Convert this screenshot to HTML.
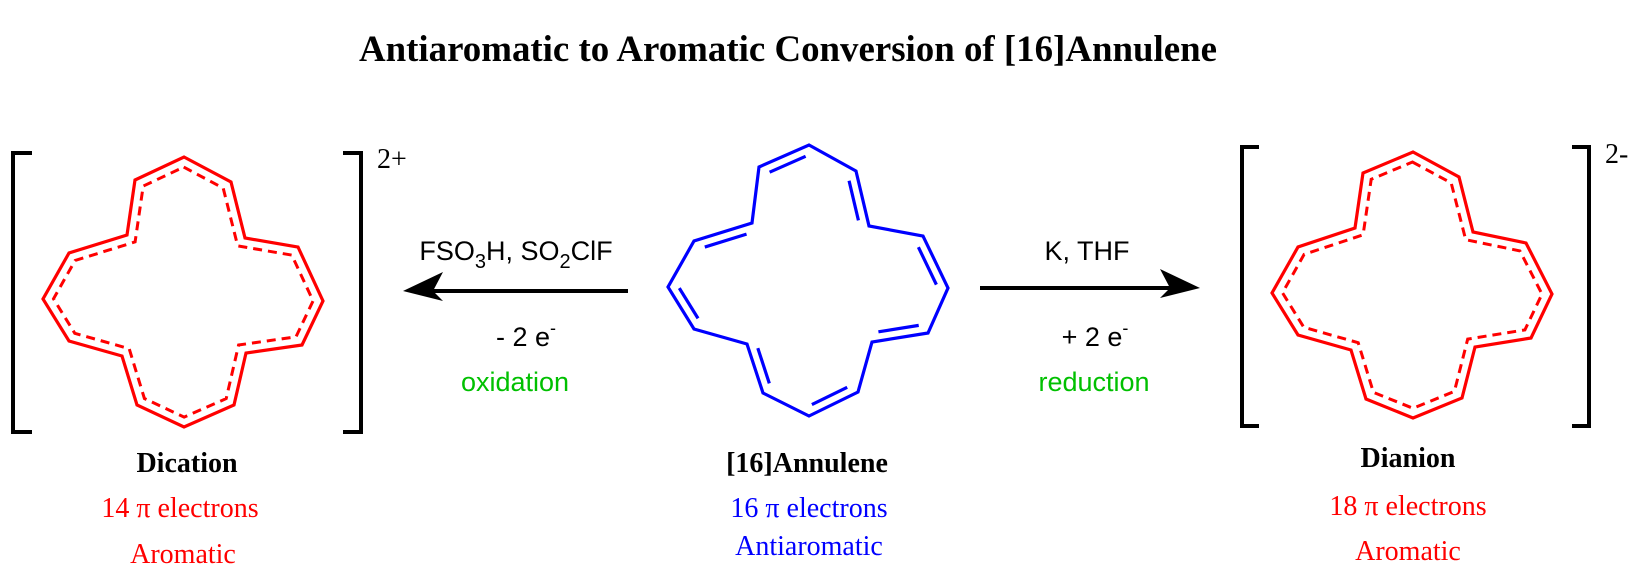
<!DOCTYPE html>
<html><head><meta charset="utf-8"><style>
html,body{margin:0;padding:0;background:#fff;width:1641px;height:580px;overflow:hidden}
svg{display:block}
.serif{font-family:"Liberation Serif",serif}
.sans{font-family:"Liberation Sans",sans-serif}
</style></head><body>
<svg id="s" width="1641" height="580" viewBox="0 0 1641 580" xmlns="http://www.w3.org/2000/svg">
<text x="788" y="61" text-anchor="middle" class="serif" font-weight="bold" font-size="37" textLength="858" lengthAdjust="spacingAndGlyphs">Antiaromatic to Aromatic Conversion of [16]Annulene</text>

<!-- brackets -->
<g fill="none" stroke="#000" stroke-width="4">
<polyline points="32,153 13,153 13,432 32,432"/>
<polyline points="343,153 361,153 361,432 343,432"/>
<polyline points="1259,147 1242,147 1242,426 1259,426"/>
<polyline points="1572,147 1589,147 1589,426 1572,426"/>
</g>
<text x="377" y="168" class="serif" font-size="28">2+</text>
<text x="1605" y="163" class="serif" font-size="28">2-</text>

<!-- arrows -->
<line x1="430" y1="291" x2="628" y2="291" stroke="#000" stroke-width="4"/>
<polygon points="403,291 443,272 433,291 443,301" fill="#000"/>
<line x1="980" y1="288" x2="1170" y2="288" stroke="#000" stroke-width="4"/>
<polygon points="1200,288 1160,269 1170,288 1160,298" fill="#000"/>

<text x="516" y="260" text-anchor="middle" class="sans" font-size="27">FSO<tspan font-size="20" dy="8">3</tspan><tspan dy="-8">H, SO</tspan><tspan font-size="20" dy="8">2</tspan><tspan dy="-8">ClF</tspan></text>
<text x="526" y="346" text-anchor="middle" class="sans" font-size="27">- 2 e<tspan font-size="18" dy="-12">-</tspan></text>
<text x="515" y="391" text-anchor="middle" class="sans" font-size="27" fill="#00c000">oxidation</text>
<text x="1087" y="260" text-anchor="middle" class="sans" font-size="27">K, THF</text>
<text x="1095" y="346" text-anchor="middle" class="sans" font-size="27">+ 2 e<tspan font-size="18" dy="-12">-</tspan></text>
<text x="1094" y="391" text-anchor="middle" class="sans" font-size="27" fill="#00c000">reduction</text>

<!-- labels -->
<text x="187" y="472" text-anchor="middle" class="serif" font-weight="bold" font-size="28">Dication</text>
<text x="180" y="517" text-anchor="middle" class="serif" font-size="28" fill="#f00">14 π electrons</text>
<text x="183" y="563" text-anchor="middle" class="serif" font-size="28" fill="#f00">Aromatic</text>
<text x="807" y="472" text-anchor="middle" class="serif" font-weight="bold" font-size="28">[16]Annulene</text>
<text x="809" y="517" text-anchor="middle" class="serif" font-size="28" fill="#00f">16 π electrons</text>
<text x="809" y="555" text-anchor="middle" class="serif" font-size="28" fill="#00f">Antiaromatic</text>
<text x="1408" y="467" text-anchor="middle" class="serif" font-weight="bold" font-size="28">Dianion</text>
<text x="1408" y="515" text-anchor="middle" class="serif" font-size="28" fill="#f00">18 π electrons</text>
<text x="1408" y="560" text-anchor="middle" class="serif" font-size="28" fill="#f00">Aromatic</text>
<g id="mol"></g>
</svg>
<script>
var NS="http://www.w3.org/2000/svg",g=document.getElementById("mol");
function el(n,a){var e=document.createElementNS(NS,n);for(var k in a)e.setAttribute(k,a[k]);g.appendChild(e);return e;}
function P(a){var r=[];for(var i=0;i<a.length;i+=2)r.push([a[i],a[i+1]]);return r;}
function inward(p,i,d){
 var n=p.length,a=p[i],b=p[(i+1)%n],cx=0,cy=0;p.forEach(function(q){cx+=q[0];cy+=q[1]});cx/=n;cy/=n;
 var dx=b[0]-a[0],dy=b[1]-a[1],L=Math.hypot(dx,dy),nx=-dy/L,ny=dx/L;
 var mx=(a[0]+b[0])/2-cx,my=(a[1]+b[1])/2-cy;if(nx*mx+ny*my>0){nx=-nx;ny=-ny;}
 return [[a[0]+nx*d,a[1]+ny*d],[b[0]+nx*d,b[1]+ny*d]];}
function isect(l1,l2){var x1=l1[0][0],y1=l1[0][1],x2=l1[1][0],y2=l1[1][1],x3=l2[0][0],y3=l2[0][1],x4=l2[1][0],y4=l2[1][1];
 var den=(x1-x2)*(y3-y4)-(y1-y2)*(x3-x4);var t=((x1-x3)*(y3-y4)-(y1-y3)*(x3-x4))/den;return [x1+t*(x2-x1),y1+t*(y2-y1)];}
function pts(p){return p.map(function(q){return q[0].toFixed(1)+","+q[1].toFixed(1)}).join(" ");}
function arom(p){
 el("polygon",{points:pts(p),fill:"none",stroke:"#f00","stroke-width":3.2,"stroke-linejoin":"miter"});
 var n=p.length,ls=[],ip=[];for(var i=0;i<n;i++)ls.push(inward(p,i,9));
 for(var i=0;i<n;i++)ip.push(isect(ls[(i+n-1)%n],ls[i]));
 el("polygon",{points:pts(ip),fill:"none",stroke:"#f00","stroke-width":3,"stroke-dasharray":"9 6"});}
arom(P([184,157,231,182,245,238,298,247,323,301,302,345,246,353,234,405,184,427,137,405,122,356,69,341,43,299,69,253,127,235,135,180]));
arom(P([1413,152,1459,177,1473,232,1526,243,1552,294,1531,338,1475,347,1462,398,1413,418,1366,399,1351,350,1298,335,1272,293,1298,247,1355,228,1363,173]));
var c=P([809,145,856,171,869,226,923,236,948,288,928,333,872,342,858,392,809,416,763,393,747,344,694,329,668,287,694,241,752,223,759,167]);
el("polygon",{points:pts(c),fill:"none",stroke:"#00f","stroke-width":3.2});
[15,1,3,5,7,9,11,13].forEach(function(i){var l=inward(c,i,9),a=l[0],b=l[1],s=0.14;
 el("line",{x1:a[0]+(b[0]-a[0])*s,y1:a[1]+(b[1]-a[1])*s,x2:b[0]-(b[0]-a[0])*s,y2:b[1]-(b[1]-a[1])*s,stroke:"#00f","stroke-width":3.2});});
</script>
</body></html>
